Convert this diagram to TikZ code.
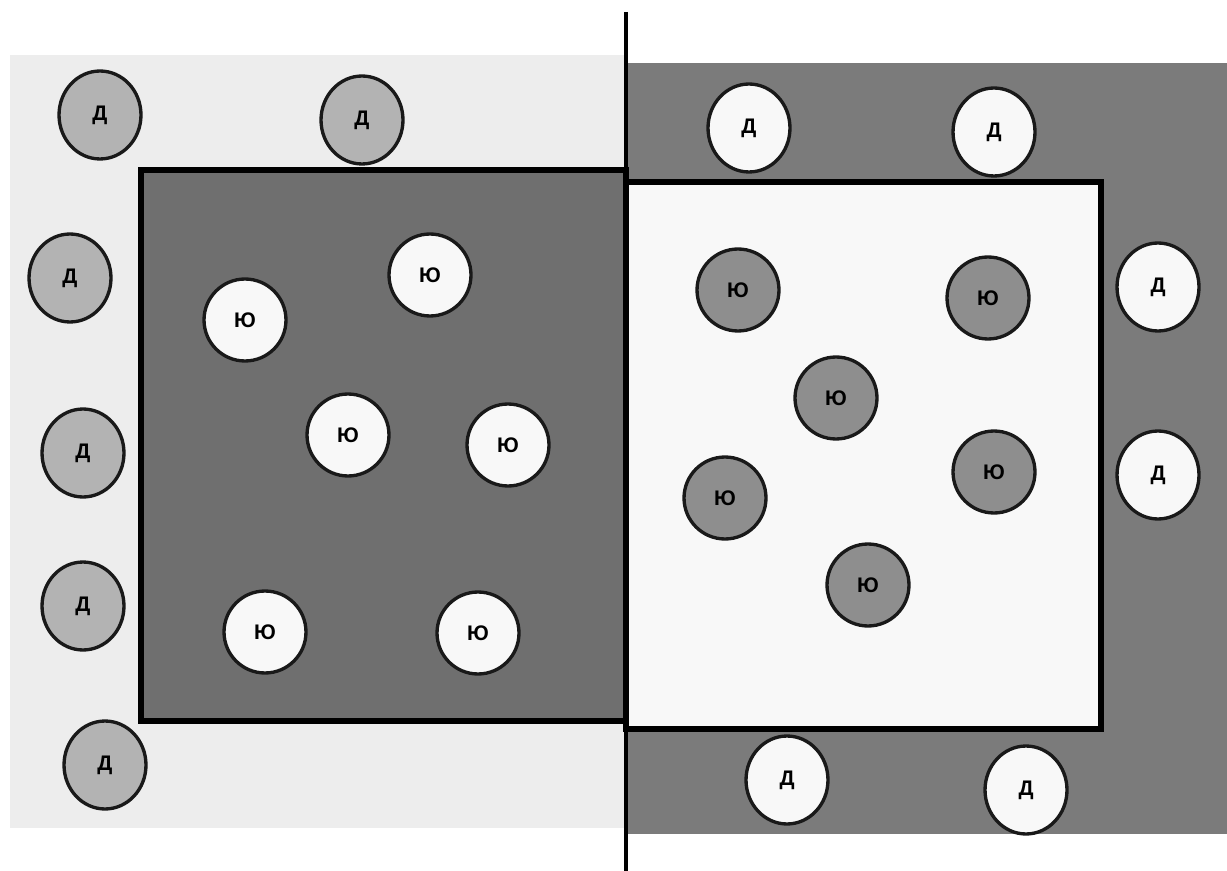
\documentclass[tikz,border=0pt]{standalone}
\usepackage{fontspec}
\setmainfont{Liberation Sans}
\usetikzlibrary{shapes.geometric}
\definecolor{lightband}{HTML}{EDEDED}
\definecolor{darkrect}{HTML}{6F6F6F}
\definecolor{darkband}{HTML}{7B7B7B}
\definecolor{lightcirc}{HTML}{B3B3B3}
\definecolor{midcirc}{HTML}{8E8E8E}
\definecolor{whitecirc}{HTML}{F8F8F8}
\tikzset{
  lbl/.style={font=\fontsize{12}{14}\selectfont\bfseries, text=black, inner sep=0pt, line width=1.9pt, draw=black!90},
  dout/.style={lbl, ellipse, minimum width=1.64cm, minimum height=1.76cm},
  yin/.style={lbl, circle, minimum size=1.64cm},
  dgray/.style={dout, fill=lightcirc},
  dwhite/.style={dout, fill=whitecirc},
  ywhite/.style={yin, fill=whitecirc},
  ygray/.style={yin, fill=midcirc},
  frame/.style={line width=3.4pt, draw=black}
}
\begin{document}
\begin{tikzpicture}[x=0.02cm, y=-0.02cm]
\useasboundingbox (0,0) rectangle (1227,871);
\fill[white] (0,0) rectangle (1227,871);
% bands
\fill[lightband] (10,55) rectangle (626,828);
\fill[darkband] (626,63) rectangle (1227,834);
% inner rectangles
\filldraw[fill=darkrect, frame] (141,170) rectangle (626,721);
\filldraw[fill=whitecirc, frame] (626,182) rectangle (1101,729);
% vertical divider
\draw[line width=2.4pt] (626,12) -- (626,871);
% left outer
\node[dgray] (d1) at (100,115) {Д};
\node[dgray] (d2) at (362,120) {Д};
\node[dgray] (d3) at (70,278) {Д};
\node[dgray] (d4) at (83,453) {Д};
\node[dgray] (d5) at (83,606) {Д};
\node[dgray] (d6) at (105,765) {Д};
% right outer
\node[dwhite] (d7) at (749,128) {Д};
\node[dwhite] (d8) at (994,132) {Д};
\node[dwhite] (d9) at (1158,287) {Д};
\node[dwhite] (d10) at (1158,475) {Д};
\node[dwhite] (d11) at (787,780) {Д};
\node[dwhite] (d12) at (1026,790) {Д};
% left inner
\node[ywhite] (y1) at (245,320) {Ю};
\node[ywhite] (y2) at (430,275) {Ю};
\node[ywhite] (y3) at (348,435) {Ю};
\node[ywhite] (y4) at (508,445) {Ю};
\node[ywhite] (y5) at (265,632) {Ю};
\node[ywhite] (y6) at (478,633) {Ю};
% right inner
\node[ygray] (y7) at (738,290) {Ю};
\node[ygray] (y8) at (988,298) {Ю};
\node[ygray] (y9) at (836,398) {Ю};
\node[ygray] (y10) at (994,472) {Ю};
\node[ygray] (y11) at (725,498) {Ю};
\node[ygray] (y12) at (868,585) {Ю};
\end{tikzpicture}
\end{document}
